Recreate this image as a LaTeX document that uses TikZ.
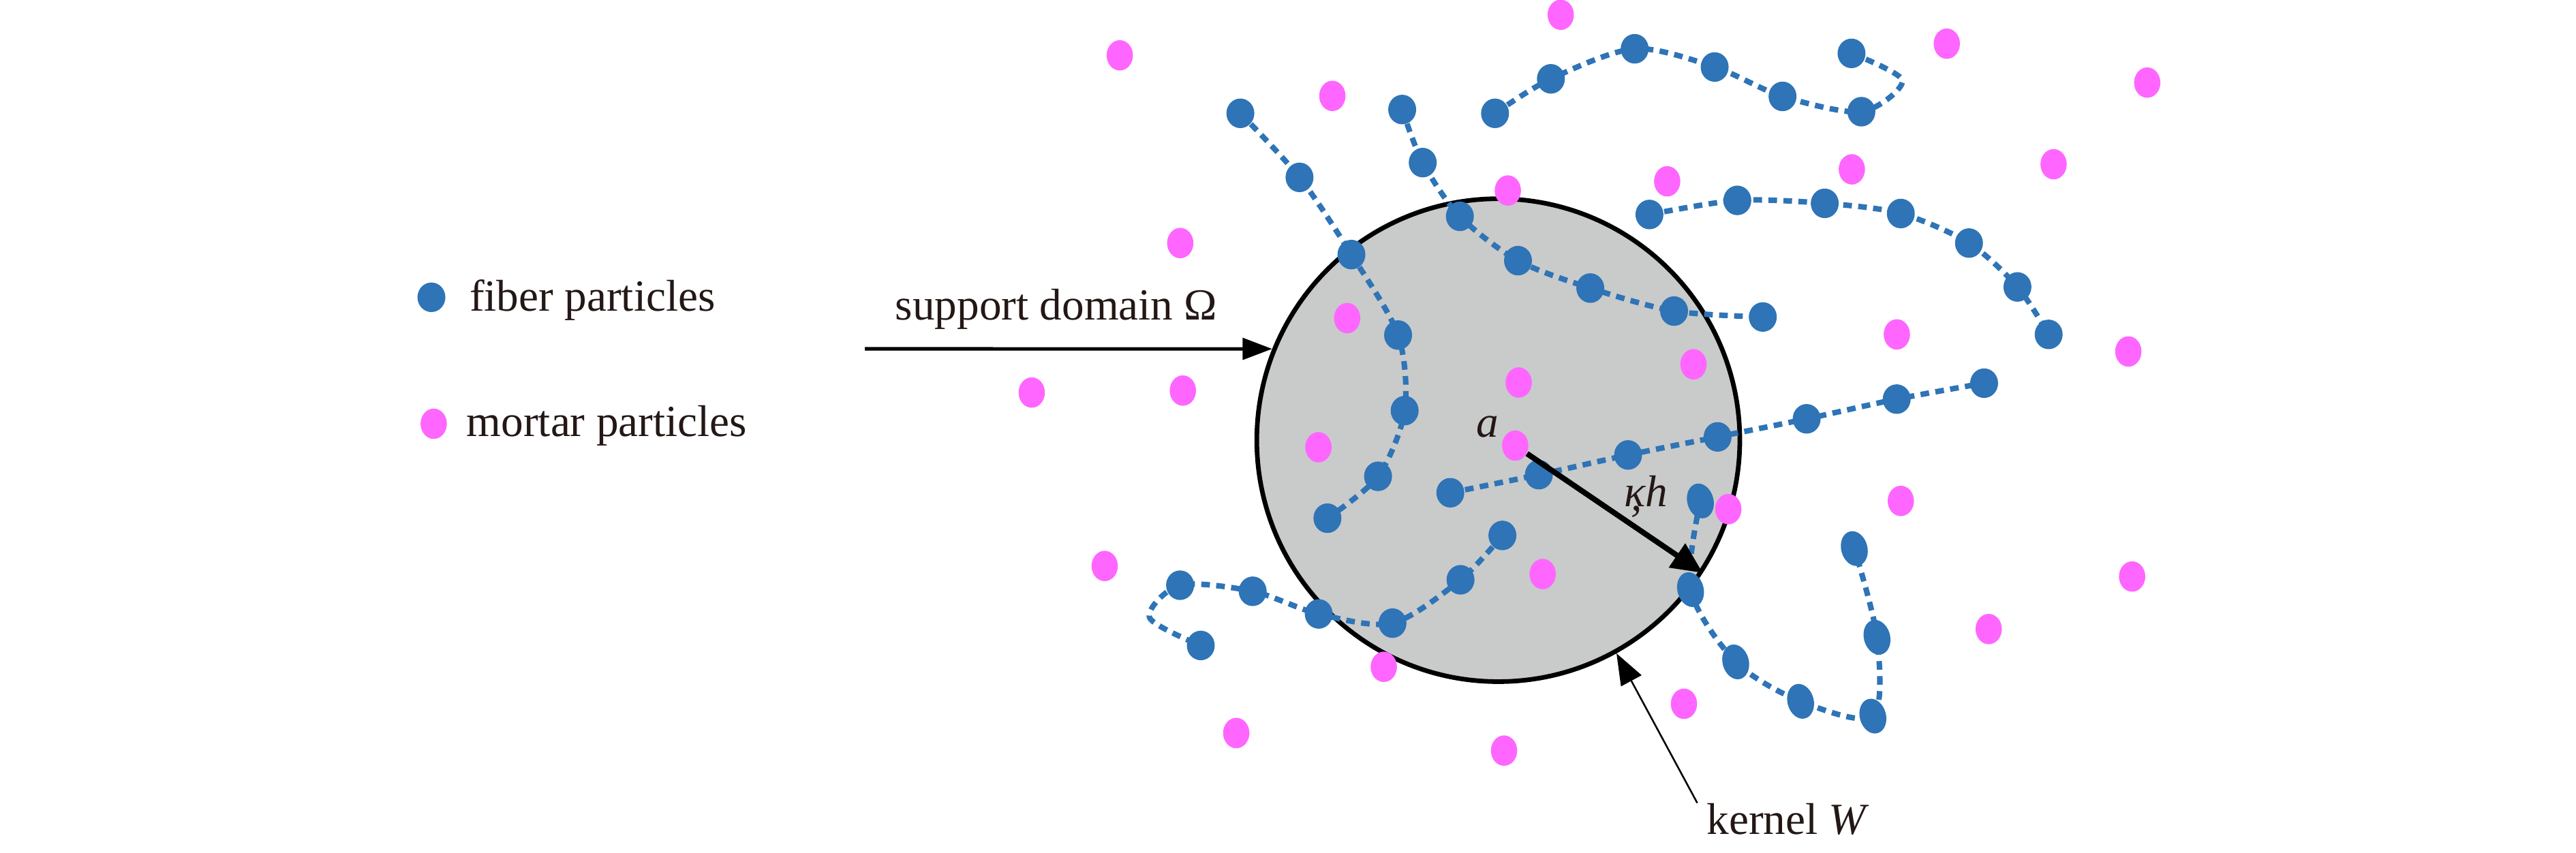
\documentclass[tikz,border=0pt]{standalone}
\usepackage{fontspec}
\setmainfont{Liberation Serif}
\usetikzlibrary{arrows.meta,shapes.geometric}
\definecolor{fibblue}{RGB}{46,116,182}
\definecolor{morpink}{RGB}{255,102,255}
\definecolor{kergray}{RGB}{201,202,202}
\definecolor{txtblack}{RGB}{35,24,21}
\begin{document}
\begin{tikzpicture}[x=0.2mm, y=-0.2mm, font=\fontsize{15.4}{18}\selectfont, line join=round,
	fib/.style={ellipse, fill=fibblue, inner sep=0pt, minimum width=3.4mm, minimum height=3.6mm},
	fibtilt/.style={fib, minimum width=3.2mm, minimum height=4.3mm, rotate=15},
	mor/.style={ellipse, fill=morpink, inner sep=0pt, minimum width=3.2mm, minimum height=3.7mm},
	chain/.style={fibblue, line width=1.9pt, dash pattern=on 3pt off 2.2pt},
	lbl/.style={text=txtblack, inner sep=0pt}]
	\useasboundingbox (0,0) rectangle (1568,519);
	% kernel
	\node[circle, draw, fill=kergray, line width=1.6pt, minimum size=58.8mm] (ker) at (912,268) {};
	% fibers
	\foreach \x/\y [count=\i] in {755/69,791/108,822.6/155,851/204,855/250,838.8/290,808/315.5}
		\coordinate (fa\i) at (\x,\y);
	\foreach \x/\y [count=\i] in {853.5/66.7,866/99,888.6/131.7,924/158.7,968/175.4,1019/189.4,1073/193}
		\coordinate (fb\i) at (\x,\y);
	\foreach \x/\y [count=\i] in {910/69,944/48,995/29.7,1043.7/40.8,1085/58.7,1133/68,1127/32.5}
		\coordinate (fc\i) at (\x,\y);
	\foreach \x/\y [count=\i] in {1004/130.6,1057.5/122,1110.7/123.8,1157/130,1198.5/148,1228/174.7,1247/203.6}
		\coordinate (fd\i) at (\x,\y);
	\foreach \x/\y [count=\i] in {882.8/300,936.7/289,991/277,1045.5/266,1099.7/255,1154.5/243,1207.7/233.3}
		\coordinate (fe\i) at (\x,\y);
	\foreach \x/\y [count=\i] in {914.5/326,889/353,847.6/379.4,802.7/373.8,762.5/360,718.3/356.3,730.9/393}
		\coordinate (ff\i) at (\x,\y);
	\foreach \x/\y [count=\i] in {1035/305,1029/359,1056.5/403,1096/427,1140/436,1142.5/388,1128.7/334}
		\coordinate (fg\i) at (\x,\y);
	\coordinate (fcx) at (1158,49);
	\coordinate (ffx) at (699.7,376);
	\draw[chain] plot[smooth] coordinates {(fa1)(fa2)(fa3)(fa4)(fa5)(fa6)(fa7)};
	\draw[chain] plot[smooth] coordinates {(fb1)(fb2)(fb3)(fb4)(fb5)(fb6)(fb7)};
	\draw[chain] plot[smooth] coordinates {(fc1)(fc2)(fc3)(fc4)(fc5)(fc6)(fcx)(fc7)};
	\draw[chain] plot[smooth] coordinates {(fd1)(fd2)(fd3)(fd4)(fd5)(fd6)(fd7)};
	\draw[chain] plot[smooth] coordinates {(fe1)(fe2)(fe3)(fe4)(fe5)(fe6)(fe7)};
	\draw[chain] plot[smooth] coordinates {(ff1)(ff2)(ff3)(ff4)(ff5)(ff6)(ffx)(ff7)};
	\draw[chain] plot[smooth] coordinates {(fg1)(fg2)(fg3)(fg4)(fg5)(fg6)(fg7)};
	\foreach \c in {fa,fb,fc,fd,fe,ff}
		\foreach \i in {1,...,7}
			\node[fib] at (\c\i) {};
	\foreach \i in {1,...,7}
		\node[fibtilt] at (fg\i) {};
	% mortar
	\foreach \x/\y in {681.6/33.7,811/58.4,950/9,1185/26.6,1307/50.3,1250/100,1127.2/103.1,1014.8/110.4,
		917.8/116,718.4/148,820/193.7,1030.8/221.8,924.4/232.9,1154.6/203.6,1295.5/214,628/239,720/237.8,
		802.5/272.3,1052/310,1157/305,672.4/344.6,939/349.5,1297.8/351,1210.5/383,842.3/406,1025/428.5,
		752.5/446.3,915.5/457}
		\node[mor] at (\x,\y) {};
	\node[mor] (a) at (922.3,271.3) {};
	\node[lbl, anchor=base] at (905.4,266) {\textit{a}};
	\node[lbl, anchor=base] at (1002,308.3) {\textit{κ\llap{\raisebox{-0.1em}{,}\kern0.08em}h}};
	\draw[-{Triangle[length=3.8mm,width=3.4mm]}, line width=1.9pt] (a) -- (ker.-33.5);
	% support domain
	\node[lbl, anchor=base] (sd) at (643,194.6) {support domain Ω};
	\coordinate (sdstart) at (526.4,212.4);
	\draw[-{Triangle[length=3.6mm,width=2.6mm]}, line width=1.2pt] (sdstart) -- (ker.158);
	% kernel W
	\node[lbl, anchor=base west] (kw) at (1038.6,508) {kernel \textit{W}};
	\draw[-{Triangle[length=3.8mm,width=2.8mm]}, line width=0.6pt] ([xshift=-1.1mm]kw.north west) -- (ker.-61.3);
	% legend
	\node[fib] (lf) at (262.6,181) {};
	\node[lbl, anchor=base west] at (285.5,189.2) {fiber particles};
	\node[mor] (lm) at (264,258) {};
	\node[lbl, anchor=base west] at (283.7,265.8) {mortar particles};
\end{tikzpicture}
\end{document}
